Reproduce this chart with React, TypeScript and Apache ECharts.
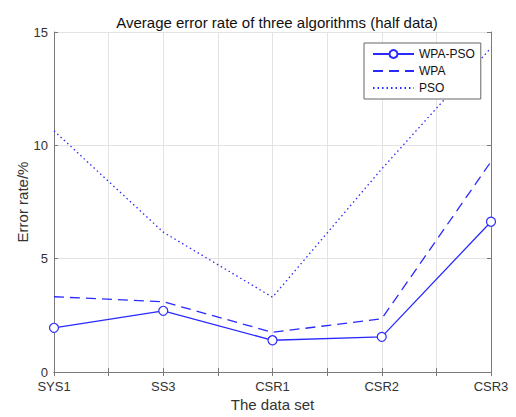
import React, { useEffect, useRef } from "react";
import * as echarts from "echarts";

const categories = ["SYS1", "SS3", "CSR1", "CSR2", "CSR3"];
const wpaPso = [1.95, 2.7, 1.4, 1.55, 6.63];
const wpa = [3.32, 3.1, 1.75, 2.35, 9.28];
const pso = [10.64, 6.17, 3.3, 8.96, 14.3];
const yTicks = [0, 5, 10, 15];

const BLUE = "#2a2aff";
const AXIS = "#7a7a7a";
const TEXT = "#333333";
const FONT = "Liberation Sans, Arial, sans-serif";

const toPoints = (vals: number[]) => vals.map((v, i) => [i + 1, v]);

export default function App() {
  const ref = useRef<HTMLDivElement>(null);
  useEffect(() => {
    if (!ref.current) return;
    const chart = echarts.init(ref.current, null, { renderer: "svg" });
    const baseX = {
      type: "value" as const,
      min: 1,
      max: categories.length,
      interval: 0.5,
      axisLine: { show: true, lineStyle: { color: AXIS, width: 1 } },
      axisTick: { show: true, inside: true, length: 4, lineStyle: { color: AXIS } },
    };
    const baseY = {
      type: "value" as const,
      min: yTicks[0],
      max: yTicks[yTicks.length - 1],
      interval: 5,
      axisLine: { show: true, lineStyle: { color: AXIS, width: 1 } },
      axisTick: { show: true, inside: true, length: 4, lineStyle: { color: AXIS } },
    };
    const hiddenSymbol = { color: "transparent", borderColor: "transparent", borderWidth: 0 };
    chart.setOption({
      animation: false,
      backgroundColor: "#ffffff",
      textStyle: { fontFamily: FONT },
      title: {
        text: "Average error rate of three algorithms (half data)",
        left: 272,
        textAlign: "center",
        top: 10,
        textStyle: { fontSize: 15, fontWeight: "normal", color: "#111", fontFamily: FONT },
      },
      grid: { left: 54, right: 25, top: 32, bottom: 42 },
      legend: {
        orient: "vertical",
        left: 364,
        top: 43,
        padding: [5, 6, 5, 8],
        itemGap: 5,
        itemWidth: 41,
        itemHeight: 10,
        borderColor: "#666",
        borderWidth: 1,
        backgroundColor: "#fff",
        textStyle: { fontSize: 12, color: "#111", fontFamily: FONT },
        data: [
          { name: "WPA-PSO" },
          { name: "WPA", itemStyle: hiddenSymbol },
          { name: "PSO", itemStyle: hiddenSymbol },
        ],
      },
      xAxis: [
        {
          ...baseX,
          position: "bottom",
          name: "The data set",
          nameLocation: "middle",
          nameGap: 25,
          nameMoveOverlap: false,
          nameTextStyle: { fontSize: 15, color: TEXT, fontFamily: FONT },
          axisLabel: {
            fontSize: 13,
            color: TEXT,
            margin: 8,
            formatter: (v: number) => (Number.isInteger(v) ? categories[v - 1] ?? "" : ""),
          },
          splitLine: { show: true, lineStyle: { color: "#e3e3e3", width: 1 } },
        },
        {
          ...baseX,
          position: "top",
          axisLabel: { show: false },
          splitLine: { show: false },
        },
      ],
      yAxis: [
        {
          ...baseY,
          position: "left",
          name: "Error rate/%",
          nameLocation: "middle",
          nameGap: 24,
          nameMoveOverlap: false,
          nameTextStyle: { fontSize: 15, color: TEXT, fontFamily: FONT },
          axisLabel: { fontSize: 13, color: TEXT, margin: 6 },
          splitLine: { show: true, lineStyle: { color: "#e3e3e3", width: 1 } },
        },
        {
          ...baseY,
          position: "right",
          axisLabel: { show: false },
          splitLine: { show: false },
        },
      ],
      series: [
        {
          name: "WPA-PSO",
          type: "line",
          data: toPoints(wpaPso),
          symbol: "circle",
          symbolSize: 9,
          itemStyle: { color: "#fff", borderColor: BLUE, borderWidth: 1.2 },
          lineStyle: { color: BLUE, width: 1.3 },
          z: 5,
        },
        {
          name: "WPA",
          type: "line",
          data: toPoints(wpa),
          symbol: "none",
          itemStyle: { color: BLUE },
          lineStyle: { color: BLUE, width: 1.3, type: [10, 6] },
        },
        {
          name: "PSO",
          type: "line",
          data: toPoints(pso),
          symbol: "none",
          itemStyle: { color: BLUE },
          lineStyle: { color: BLUE, width: 1.3, type: [1.5, 3] },
        },
      ],
    });
    return () => chart.dispose();
  }, []);
  return (
    <div
      ref={ref}
      style={{ position: "fixed", left: 0, top: 0, width: 516, height: 417 }}
    />
  );
}
